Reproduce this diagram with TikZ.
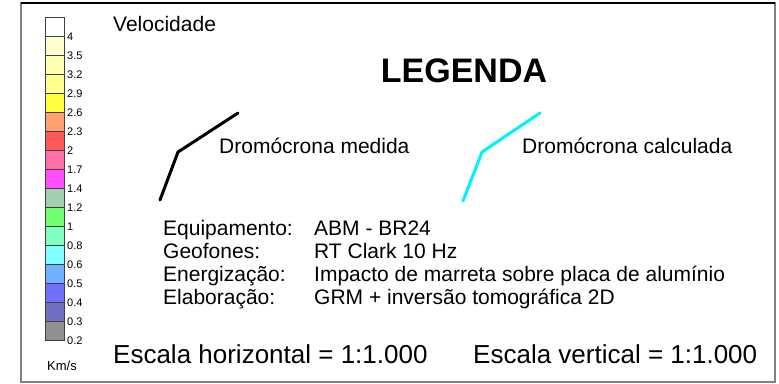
\documentclass[tikz,border=0pt]{standalone}
\usepackage{fontspec}
\setmainfont{Liberation Sans}
\usepackage[svgnames]{xcolor}
\usepackage{tikz}

\definecolor{VelA}{HTML}{FFFFFF}
\definecolor{VelB}{HTML}{FFFFD0}
\definecolor{VelC}{HTML}{FFFFB0}
\definecolor{VelD}{HTML}{FFFF90}
\definecolor{VelE}{HTML}{FFFF40}
\definecolor{VelF}{HTML}{FFA070}
\definecolor{VelG}{HTML}{FF5858}
\definecolor{VelH}{HTML}{FF70A8}
\definecolor{VelI}{HTML}{FF50FF}
\definecolor{VelJ}{HTML}{A0D0B0}
\definecolor{VelK}{HTML}{70FF70}
\definecolor{VelL}{HTML}{80FFC0}
\definecolor{VelM}{HTML}{80FFFF}
\definecolor{VelN}{HTML}{70B0FF}
\definecolor{VelO}{HTML}{7070FF}
\definecolor{VelP}{HTML}{7070C0}
\definecolor{VelQ}{HTML}{909090}
\definecolor{Calc}{HTML}{00F0FF}

\begin{document}
\begin{tikzpicture}[x=1pt,y=-1pt]
        \tikzset{
            barlabel/.style={anchor=west,inner sep=1pt,font=\fontsize{11}{12}\selectfont},
            txt/.style={anchor=base west,inner sep=0pt,font=\fontsize{21}{24}\selectfont},
            big/.style={anchor=base west,inner sep=0pt,font=\fontsize{26}{30}\selectfont},
            drom/.style={line width=3pt,line cap=round,line join=round},
        }
        \useasboundingbox (0,0) rectangle (779,383);

        % moldura
        \draw[Gray,line width=1.5pt] (21,3) rectangle (775,382);
        \draw[black,line width=1.2pt] (21,3) -- (775,3);

        % escala de velocidade
        \foreach \c/\v [count=\i from 0] in {VelA/4,VelB/3.5,VelC/3.2,VelD/2.9,VelE/2.6,
                VelF/2.3,VelG/2,VelH/1.7,VelI/1.4,VelJ/1.2,VelK/1,VelL/0.8,VelM/0.6,
                VelN/0.5,VelO/0.4,VelP/0.3,VelQ/0.2} {
            \filldraw[fill=\c,draw=black!75,line width=0.8pt] (45,{17+19*\i}) rectangle (64,{36+19*\i});
            \node[barlabel] (lbl\i) at (66,{37+19*\i}) {\v};
        }
        \node[font=\fontsize{13}{14}\selectfont] (unit) at (62,366) {Km/s};

        \node[txt] (vel) at (113,31) {Velocidade};
        \node[anchor=base,inner sep=0pt,font=\fontsize{34}{38}\selectfont\bfseries] (title) at (464,82) {LEGENDA};

        % dromocronas
        \coordinate (m1) at (160,200);
        \coordinate (m2) at (178,152);
        \coordinate (m3) at (238,113);
        \draw[drom,black] (m1) -- (m2) -- (m3);
        \node[txt] (medida) at (219,153) {Dromócrona medida};

        \coordinate (c1) at (463,201);
        \coordinate (c2) at (482,152);
        \coordinate (c3) at (540,113);
        \draw[drom,Calc] (c1) -- (c2) -- (c3);
        \node[txt] (calc) at (522,153) {Dromócrona calculada};

        % dados do levantamento
        \node[txt] (k1) at (163,235) {Equipamento:};
        \node[txt] (k2) at (163,258) {Geofones:};
        \node[txt] (k3) at (163,281) {Energização:};
        \node[txt] (k4) at (163,304) {Elaboração:};
        \node[txt] (d1) at (314,235) {ABM - BR24};
        \node[txt] (d2) at (314,258) {RT Clark 10 Hz};
        \node[txt] (d3) at (314,281) {Impacto de marreta sobre placa de alumínio};
        \node[txt] (d4) at (314,304) {GRM + inversão tomográfica 2D};

        \node[big] (eh) at (113,363) {Escala horizontal = 1:1.000};
        \node[big] (ev) at (473,363) {Escala vertical = 1:1.000};
    \end{tikzpicture}
\end{document}
